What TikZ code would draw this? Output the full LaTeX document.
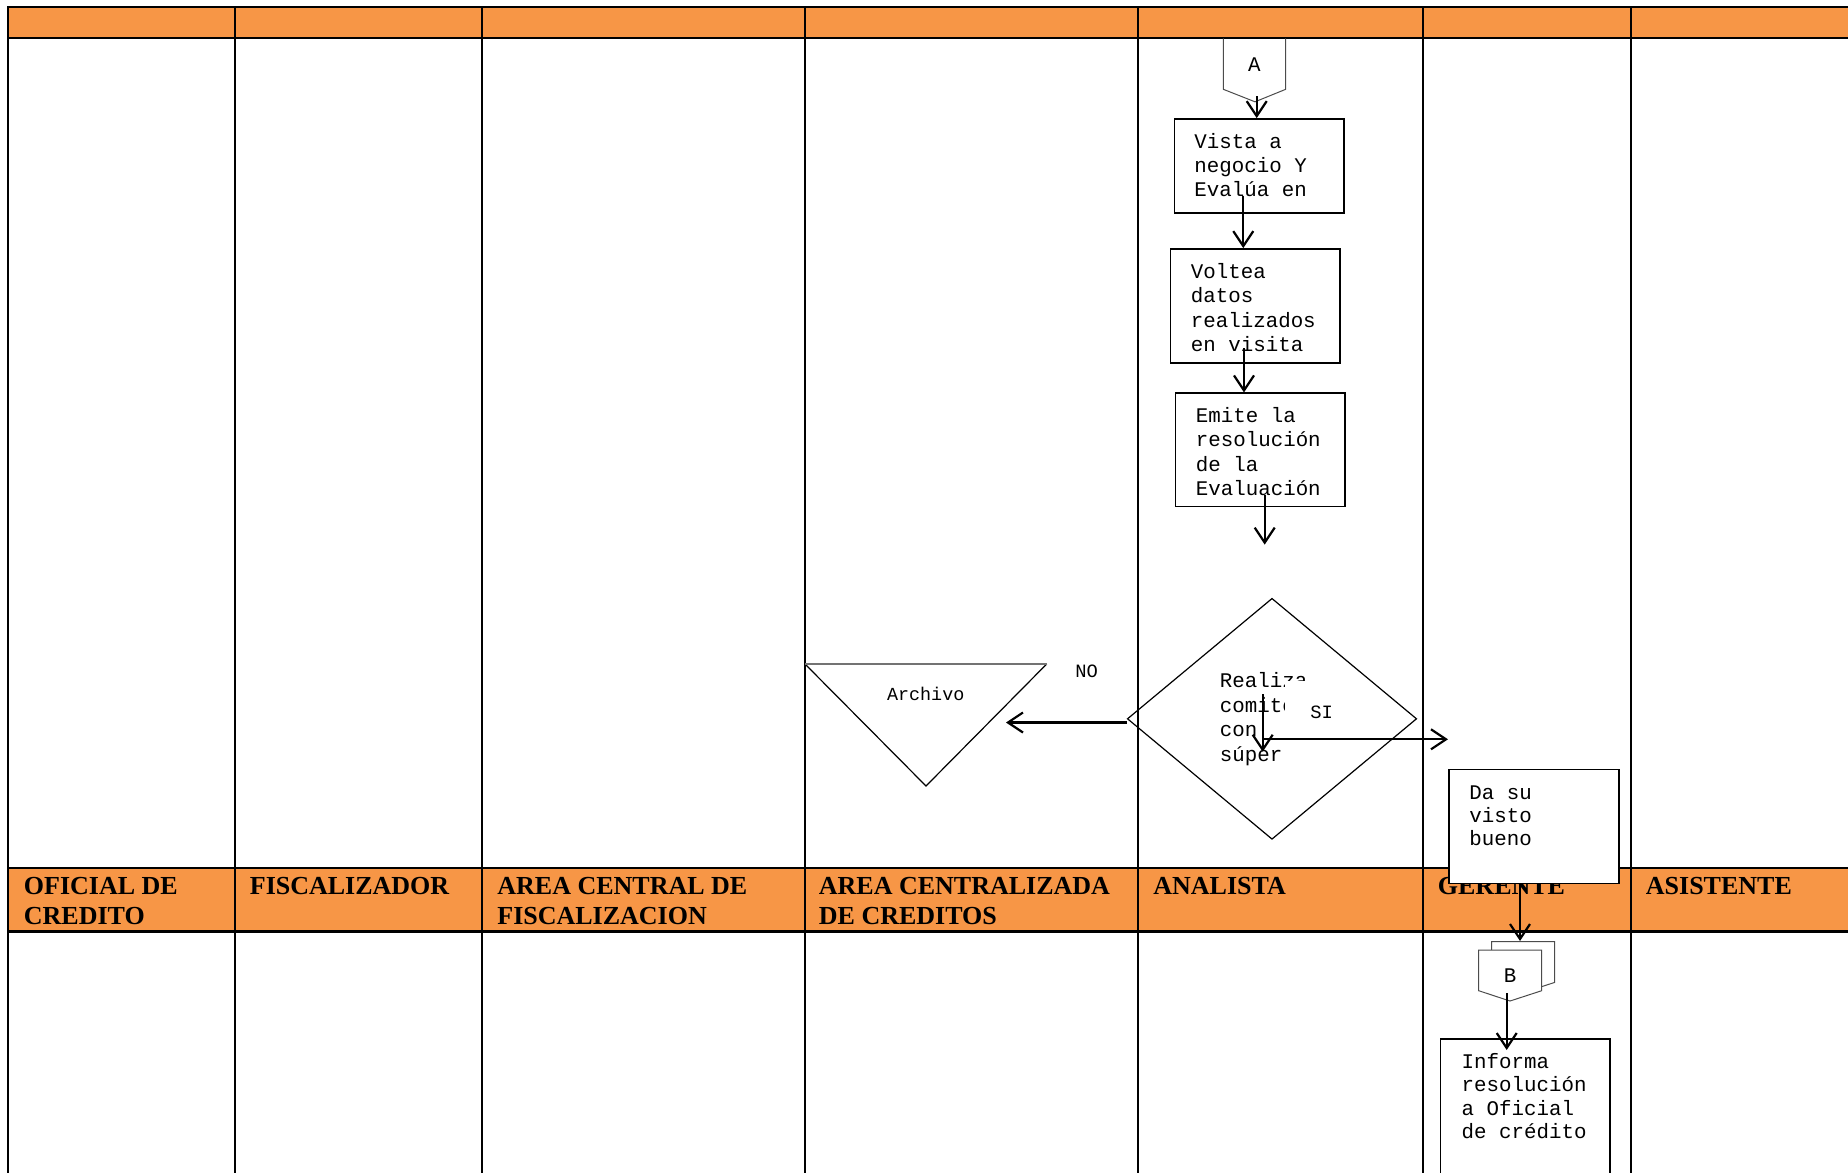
\documentclass[tikz,border=0pt]{standalone}
\usepackage{fontspec}
\setmainfont{Liberation Serif}
\newfontfamily\mono{Liberation Mono}
\usetikzlibrary{arrows.meta,shapes.geometric}
\definecolor{hdr}{HTML}{F79646}

\begin{document}
\begin{tikzpicture}[x=0.5pt,y=-0.5pt,
    lane/.style={line width=1pt},
    hd/.style={anchor=base west,inner sep=0,align=left,font=\fontsize{13}{15}\selectfont\bfseries},
    box/.style={draw,line width=0.8pt,fill=white,minimum width=84.85pt},
    txt/.style={anchor=base west,inner sep=0,align=left,font=\mono\fontsize{10.4}{12.15}\selectfont},
    small/.style={inner sep=0,font=\mono\fontsize{9.4}{11}\selectfont},
    con/.style={draw=black!70,line width=0.5pt,fill=white},
    arr/.style={-{Straight Barb[length=7.5pt,width=10pt]},line width=1.1pt}]
    \useasboundingbox (0,0) rectangle (1848,1173);

    % bandas de titulo
    \fill[hdr] (8.3,6.7) rectangle (1848,38.3);
    \fill[hdr] (8.3,868.3) rectangle (1848,931);
    \draw[lane] (8.3,6.7) -- (1848,6.7) (8.3,38.3) -- (1848,38.3)
                (8.3,868.3) -- (1848,868.3);
    \draw[line width=1.5pt] (8.3,931) -- (1848,931);
    \draw[lane] (8.3,6.2) -- (8.3,1180) (235,6.2) -- (235,1180)
                (482.3,6.2) -- (482.3,1180) (804.5,6.2) -- (804.5,1180)
                (1138.3,6.2) -- (1138.3,1180) (1422.7,6.2) -- (1422.7,1180)
                (1630.7,6.2) -- (1630.7,1180);

    \node[hd] (ofi) at (23.5,924.3) {OFICIAL DE\\CREDITO};
    \node[hd] (fis) at (249.5,894.3) {FISCALIZADOR};
    \node[hd] (acf) at (497,924.3) {AREA CENTRAL DE\\FISCALIZACION};
    \node[hd] (acc) at (818.5,924.3) {AREA CENTRALIZADA\\DE CREDITOS};
    \node[hd] (ana) at (1153,894.3) {ANALISTA};
    \node[hd] (ger) at (1437.5,894.3) {GERENTE};
    \node[hd] (asi) at (1645.5,894.3) {ASISTENTE};

    % analista
    \draw[draw=black!70,line width=0.5pt] (1223.3,38.3) -- (1223.3,89.3) -- (1255,101.8)
        -- (1285.7,89.3) -- (1285.7,38.3);
    \node[txt,anchor=center] (A) at (1254.3,64.3) {A};

    \node[box,minimum height=47.15pt] (vis) at (1259.2,166.05) {};
    \node[txt] (vist) at (1194,196.8) {Vista a\\negocio Y\\Evalúa en};
    \node[box,minimum height=57.15pt] (vol) at (1255.3,306.05) {};
    \node[txt] (volt) at (1190.5,351.5) {Voltea\\datos\\realizados\\en visita};
    \node[box,minimum height=56.6pt] (emi) at (1260.3,449.8) {};
    \node[txt] (emit) at (1195.5,495.4) {Emite la\\resolución\\de la\\Evaluación};

    \coordinate (a1) at (1256.7,96.4);
    \coordinate (v1) at (1243.3,195.7);
    \coordinate (v2) at (1244,348.2);
    \coordinate (e1) at (1264.7,494.6);
    \coordinate (e2) at (1264.7,544.6);
    \draw[arr] (a1) -- (a1 |- vis.north);
    \draw[arr] (v1) -- (v1 |- vol.north);
    \draw[arr] (v2) -- (v2 |- emi.north);
    \draw[arr] (e1) -- (e2);

    \node[draw,diamond,line width=0.6pt,inner sep=0,minimum width=144.7pt,
          minimum height=120.5pt] (dec) at (1272,718.8) {};
    \begin{scope}
        \clip (1200,660) rectangle (1330,768);
        \node[txt,font=\mono\fontsize{10.4}{12.3}\selectfont] (dect) at (1219.5,761.3)
            {Realiza\\comité\\con\\súper};
    \end{scope}
    \node[fill=white,anchor=north west,inner sep=0,minimum width=32pt,
          minimum height=23pt] (sib) at (1285,681) {};
    \node[small,anchor=base west] (si) at (1310,718.3) {SI};

    \coordinate (d1) at (1262.7,694.3);
    \coordinate (d2) at (1262.7,751.7);
    \coordinate (d3) at (1263,739.3);
    \coordinate (d4) at (1448,739.3);
    \draw[arr] (d1) -- (d2);
    \draw[arr] (d3) -- (d4);

    % area centralizada
    \draw[line width=0.6pt] (1046.7,664) -- (926,786) -- (805,664);
    \draw[black!55,line width=1pt] (805,664) -- (1046.7,664);
    \node[inner sep=0,anchor=base,font=\mono\fontsize{9.2}{11}\selectfont] (arch)
        at (925.7,700) {Archivo};
    \node[small,anchor=base west] (no) at (1075,677.3) {NO};
    \coordinate (n1) at (1127,722.5);
    \coordinate (n2) at (1006,722.5);
    \draw[arr] (n1) -- (n2);

    % gerente
    \node[box,minimum height=57pt] (vb) at (1533.85,826.3) {};
    \node[txt,font=\mono\fontsize{10.4}{11.5}\selectfont] (vbt) at (1469,845.3)
        {Da su\\visto\\bueno};
    \coordinate (g1) at (1520,883);
    \coordinate (g2) at (1520,941);
    \draw[arr] (g1) -- (g2);

    \draw[con] (1491.7,941.7) -- (1554.7,941.7) -- (1554.7,982.4) -- (1523,992.7)
        -- (1491.7,982.4) -- cycle;
    \draw[con] (1478.7,950) -- (1541.7,950) -- (1541.7,990.7) -- (1510,1001)
        -- (1478.7,990.7) -- cycle;
    \node[txt,anchor=center] (B) at (1510,975.7) {B};

    \node[box,minimum height=73pt,anchor=north] (inf) at (1525.15,1038.3) {};
    \node[txt,font=\mono\fontsize{10.4}{11.75}\selectfont] (inft) at (1461.3,1138.8)
        {Informa\\resolución\\a Oficial\\de crédito};
    \coordinate (b1) at (1506.7,993);
    \coordinate (b2) at (1506.7,1050);
    \draw[arr] (b1) -- (b2);
\end{tikzpicture}
\end{document}
